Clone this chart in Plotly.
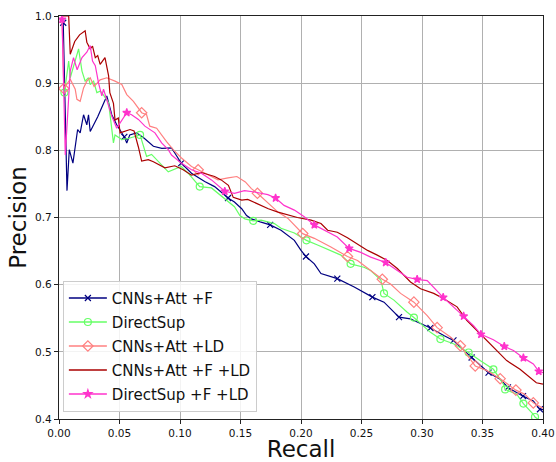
import numpy as np
import plotly.graph_objects as go

# CNNs+Att +F
att_f_recall = [0.0035, 0.0066, 0.0085, 0.0115, 0.0154, 0.0175, 0.0203, 0.0230, 0.0244, 0.0258,
                0.0320, 0.0360, 0.0395, 0.0436, 0.0477, 0.0540, 0.0560, 0.0585, 0.0640, 0.0697,
                0.0780, 0.0850, 0.0930, 0.0957, 0.1010, 0.1095, 0.1204, 0.1286, 0.1397, 0.1450,
                0.1510, 0.1550, 0.1590, 0.1670, 0.1745, 0.1835, 0.1945, 0.2000, 0.2041, 0.2110,
                0.2165, 0.2300, 0.2440, 0.2590, 0.2686, 0.2810, 0.2905, 0.2933, 0.3070, 0.3180,
                0.3260, 0.3410, 0.3550, 0.3646, 0.3710, 0.3835, 0.3920, 0.3975, 0.4000]
att_f_precision = [0.990, 0.740, 0.801, 0.781, 0.831, 0.826, 0.853, 0.838, 0.853, 0.828,
                   0.850, 0.866, 0.881, 0.853, 0.838, 0.820, 0.811, 0.823, 0.826, 0.819,
                   0.806, 0.803, 0.8035, 0.796, 0.781, 0.766, 0.7535, 0.746, 0.729, 0.723,
                   0.713, 0.703, 0.698, 0.693, 0.689, 0.681, 0.666, 0.651, 0.642, 0.631,
                   0.6165, 0.609, 0.5965, 0.5815, 0.574, 0.5516, 0.549, 0.5467, 0.5355, 0.5242,
                   0.517, 0.4915, 0.469, 0.4593, 0.447, 0.434, 0.4269, 0.4145, 0.414]
att_f_marks = [0.0035, 0.054, 0.101, 0.1397, 0.1745, 0.2041, 0.2300, 0.259, 0.281, 0.307,
               0.326, 0.341, 0.355, 0.371, 0.3835, 0.3975]

# DirectSup
ds_recall = [0.0045, 0.0080, 0.0093, 0.0125, 0.0162, 0.0190, 0.0216, 0.0244, 0.0258, 0.0286,
             0.0313, 0.0340, 0.0354, 0.0410, 0.0450, 0.0463, 0.0520, 0.0580, 0.0670, 0.0724,
             0.0765, 0.0903, 0.1010, 0.1067, 0.1163, 0.1260, 0.1316, 0.1400, 0.1450, 0.1495,
             0.1536, 0.1605, 0.1670, 0.1780, 0.1835, 0.1945, 0.2045, 0.2137, 0.2247, 0.2330,
             0.2410, 0.2520, 0.2576, 0.2660, 0.2686, 0.2768, 0.2878, 0.2933, 0.3070, 0.3152,
             0.3260, 0.3385, 0.3480, 0.3590, 0.3673, 0.3687, 0.3783, 0.3838, 0.3920, 0.3934,
             0.3970]
ds_precision = [0.886, 0.933, 0.908, 0.930, 0.951, 0.918, 0.903, 0.908, 0.898, 0.903,
                0.886, 0.888, 0.886, 0.871, 0.811, 0.823, 0.816, 0.818, 0.823, 0.791,
                0.794, 0.768, 0.776, 0.766, 0.746, 0.744, 0.736, 0.723, 0.716, 0.703,
                0.698, 0.695, 0.696, 0.691, 0.684, 0.677, 0.666, 0.659, 0.651, 0.644,
                0.631, 0.626, 0.621, 0.607, 0.587, 0.577, 0.559, 0.551, 0.529, 0.519,
                0.512, 0.499, 0.487, 0.474, 0.452, 0.444, 0.437, 0.423, 0.407, 0.403,
                0.398]
ds_marks = [0.0045, 0.067, 0.1163, 0.1605, 0.2045, 0.241, 0.2686, 0.2933, 0.3152, 0.3385,
            0.359, 0.3687, 0.3838, 0.3934]

# CNNs+Att +LD
att_ld_recall = [0.0025, 0.0040, 0.0093, 0.0134, 0.0148, 0.0175, 0.0203, 0.0230, 0.0258, 0.0290,
                 0.0340, 0.0395, 0.0463, 0.0519, 0.0560, 0.0615, 0.0683, 0.0724, 0.0750, 0.0807,
                 0.0889, 0.0944, 0.1010, 0.1095, 0.1150, 0.1204, 0.1314, 0.1397, 0.1470, 0.1540,
                 0.1590, 0.1640, 0.1730, 0.1810, 0.1890, 0.2014, 0.2110, 0.2165, 0.2247, 0.2384,
                 0.2467, 0.2576, 0.2672, 0.2740, 0.2823, 0.2933, 0.3043, 0.3125, 0.3235, 0.3317,
                 0.3440, 0.3537, 0.3646, 0.3776, 0.3850, 0.3920, 0.4000]
att_ld_precision = [1.000, 0.892, 0.906, 0.891, 0.876, 0.873, 0.893, 0.903, 0.908, 0.895,
                    0.905, 0.908, 0.903, 0.898, 0.883, 0.873, 0.856, 0.853, 0.836, 0.833,
                    0.813, 0.801, 0.789, 0.776, 0.771, 0.766, 0.756, 0.759, 0.761, 0.753,
                    0.743, 0.736, 0.721, 0.708, 0.699, 0.676, 0.669, 0.664, 0.656, 0.642,
                    0.636, 0.621, 0.608, 0.601, 0.587, 0.574, 0.554, 0.536, 0.522, 0.509,
                    0.479, 0.472, 0.460, 0.443, 0.437, 0.424, 0.416]
att_ld_marks = [0.004, 0.0683, 0.115, 0.164, 0.2014, 0.2384, 0.2672, 0.2933, 0.3125, 0.3317,
                0.344, 0.3646, 0.3776, 0.392]

# CNNs+Att +F +LD
att_f_ld_recall = [0.0010, 0.0025, 0.0080, 0.0093, 0.0130, 0.0170, 0.0216, 0.0230, 0.0258, 0.0277,
                   0.0300, 0.0320, 0.0340, 0.0380, 0.0410, 0.0420, 0.0450, 0.0463, 0.0490, 0.0505,
                   0.0587, 0.0620, 0.0656, 0.0683, 0.0738, 0.0780, 0.0875, 0.0957, 0.1026, 0.1095,
                   0.1177, 0.1286, 0.1340, 0.1400, 0.1440, 0.1510, 0.1560, 0.1646, 0.1730, 0.1810,
                   0.1890, 0.1970, 0.2083, 0.2165, 0.2220, 0.2300, 0.2384, 0.2467, 0.2550, 0.2630,
                   0.2713, 0.2796, 0.2823, 0.2905, 0.2988, 0.3097, 0.3180, 0.3290, 0.3370, 0.3454,
                   0.3537, 0.3620, 0.3700, 0.3810, 0.3893, 0.3945, 0.4000]
att_f_ld_precision = [0.990, 1.000, 1.000, 0.943, 0.962, 0.972, 0.978, 0.961, 0.951, 0.955,
                      0.938, 0.941, 0.928, 0.938, 0.911, 0.886, 0.870, 0.845, 0.848, 0.826,
                      0.831, 0.829, 0.805, 0.784, 0.786, 0.783, 0.774, 0.777, 0.771, 0.763,
                      0.767, 0.761, 0.756, 0.748, 0.730, 0.726, 0.727, 0.720, 0.713, 0.708,
                      0.704, 0.700, 0.696, 0.691, 0.681, 0.678, 0.670, 0.660, 0.651, 0.644,
                      0.636, 0.624, 0.619, 0.604, 0.594, 0.587, 0.579, 0.567, 0.547, 0.532,
                      0.517, 0.502, 0.487, 0.474, 0.462, 0.454, 0.452]

# DirectSup +F +LD
ds_f_ld_recall = [0.0025, 0.0052, 0.0093, 0.0120, 0.0150, 0.0190, 0.0230, 0.0258, 0.0277, 0.0300,
                  0.0327, 0.0354, 0.0368, 0.0395, 0.0436, 0.0477, 0.0560, 0.0600, 0.0656, 0.0710,
                  0.0793, 0.0848, 0.0903, 0.0930, 0.1010, 0.1095, 0.1177, 0.1260, 0.1370, 0.1450,
                  0.1533, 0.1616, 0.1726, 0.1790, 0.1860, 0.1945, 0.2027, 0.2110, 0.2190, 0.2300,
                  0.2398, 0.2494, 0.2576, 0.2700, 0.2796, 0.2878, 0.2960, 0.3043, 0.3175, 0.3344,
                  0.3426, 0.3487, 0.3590, 0.3680, 0.3756, 0.3838, 0.3920, 0.3965, 0.4000]
ds_f_ld_precision = [0.995, 0.793, 0.918, 0.938, 0.920, 0.938, 0.946, 0.956, 0.933, 0.926,
                     0.900, 0.881, 0.891, 0.876, 0.851, 0.833, 0.856, 0.853, 0.846, 0.836,
                     0.826, 0.811, 0.801, 0.793, 0.781, 0.771, 0.766, 0.756, 0.739, 0.736,
                     0.740, 0.738, 0.734, 0.729, 0.718, 0.711, 0.701, 0.689, 0.681, 0.671,
                     0.654, 0.648, 0.641, 0.633, 0.621, 0.611, 0.608, 0.606, 0.581, 0.553,
                     0.539, 0.526, 0.518, 0.508, 0.502, 0.491, 0.482, 0.471, 0.469]
ds_f_ld_marks = [0.0025, 0.056, 0.137, 0.179, 0.211, 0.2398, 0.27, 0.296, 0.3175, 0.3344,
                 0.3487, 0.368, 0.3838, 0.3965]

series = [
    ("CNNs+Att +F", att_f_recall, att_f_precision, att_f_marks, "#000080",
     dict(symbol="x-thin-open", size=6)),
    ("DirectSup", ds_recall, ds_precision, ds_marks, "#66ff66",
     dict(symbol="circle-open", size=7)),
    ("CNNs+Att +LD", att_ld_recall, att_ld_precision, att_ld_marks, "#ff8080",
     dict(symbol="diamond-open", size=8)),
    ("CNNs+Att +F +LD", att_f_ld_recall, att_f_ld_precision, [], "#aa0000", None),
    ("DirectSup +F +LD", ds_f_ld_recall, ds_f_ld_precision, ds_f_ld_marks, "#ff33cc",
     dict(symbol="star", size=6)),
]

fig = go.Figure()

for name, rx, py, marks, color, mk in series:
    rx = np.array(rx)
    py = np.array(py)
    fig.add_trace(go.Scatter(x=rx, y=py, mode="lines", line=dict(color=color, width=1.2),
                             showlegend=False, hoverinfo="skip"))
    if mk:
        idx = [int(np.argmin(np.abs(rx - m))) for m in marks]
        fig.add_trace(go.Scatter(x=rx[idx], y=py[idx], mode="markers",
                                 marker=dict(symbol=mk["symbol"], size=mk["size"], color=color,
                                             line=dict(color=color, width=1.2)),
                                 showlegend=False, hoverinfo="skip"))

# legend entries
for name, rx, py, marks, color, mk in series:
    if mk:
        fig.add_trace(go.Scatter(x=[None], y=[None], mode="lines+markers", name=name,
                                 legendgroup=name, line=dict(color=color, width=1.5),
                                 marker=dict(symbol=mk["symbol"], size=mk["size"], color=color,
                                             line=dict(color=color, width=1.2))))
    else:
        fig.add_trace(go.Scatter(x=[None], y=[None], mode="lines", name=name,
                                 legendgroup=name, line=dict(color=color, width=1.5)))

axis_common = dict(
    showgrid=True, gridcolor="#b0b0b0", gridwidth=1,
    showline=True, mirror=True, linecolor="#222222", linewidth=1.3,
    ticks="outside", ticklen=4, tickcolor="#222222",
    tickfont=dict(size=10.5, color="#111111"),
    zeroline=False, automargin=False,
)

fig.update_xaxes(range=[0, 0.4], tick0=0, dtick=0.05, tickformat=".2f",
                 title=dict(text="Recall", font=dict(size=23, color="#111111"), standoff=9),
                 **axis_common)
fig.update_yaxes(range=[0.4, 1.0], tick0=0.4, dtick=0.1, tickformat=".1f",
                 title=dict(text="Precision", font=dict(size=23, color="#111111"), standoff=1),
                 **axis_common)

fig.update_layout(
    width=556, height=462,
    margin=dict(l=59, r=13, t=16, b=43),
    paper_bgcolor="white", plot_bgcolor="white",
    font=dict(family="DejaVu Sans", color="#111111"),
    legend=dict(x=0.008, y=0.018, xanchor="left", yanchor="bottom",
                bgcolor="rgba(255,255,255,0.85)", bordercolor="#cccccc", borderwidth=1,
                font=dict(size=15), traceorder="grouped", tracegroupgap=1.5,
                itemwidth=38),
    showlegend=True,
)

# drop the page's default body margin so the figure sits at the window's corner
fig.write_html("out.html", config={"displayModeBar": False},
               post_script="document.body.style.margin='0';")
